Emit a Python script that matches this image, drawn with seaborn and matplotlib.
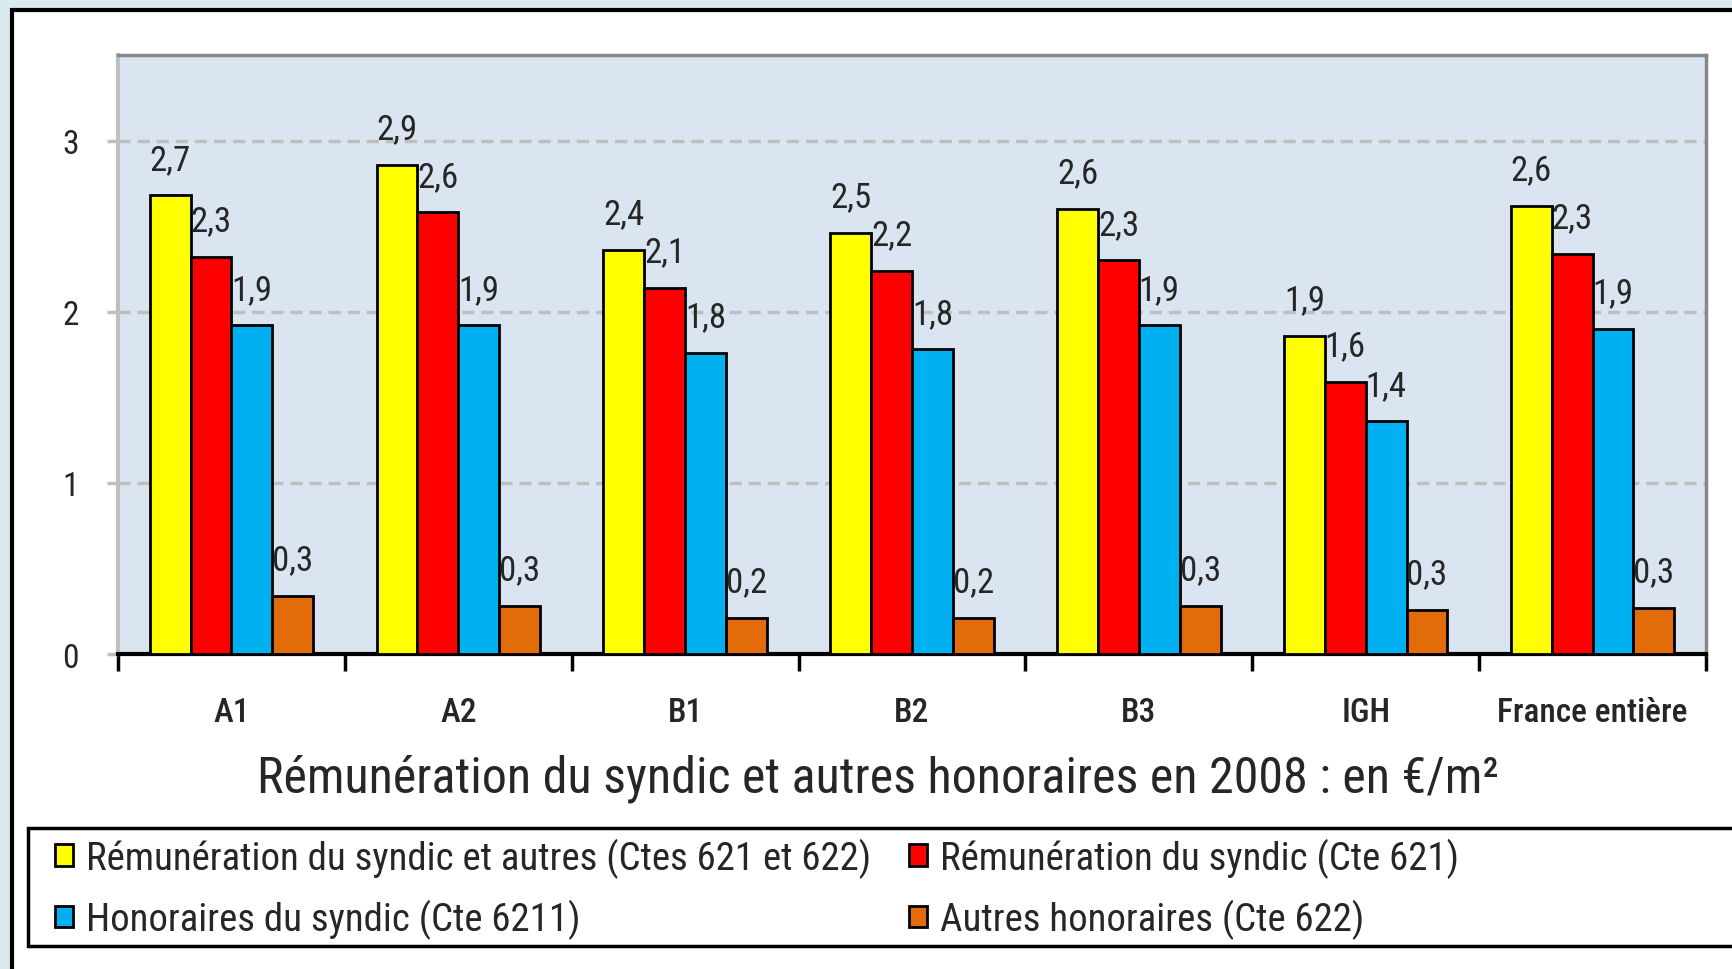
import pandas as pd
import seaborn as sns
import matplotlib.pyplot as plt
import matplotlib.patches as mpatches
from matplotlib import font_manager as fm

# donnees (en euros / m2)
zones = ['A1', 'A2', 'B1', 'B2', 'B3', 'IGH', 'France entière']
series = ['Rémunération du syndic et autres (Ctes 621 et 622)',
          'Rémunération du syndic (Cte 621)',
          'Honoraires du syndic (Cte 6211)',
          'Autres honoraires (Cte 622)']
remun_et_autres = [2.68, 2.86, 2.36, 2.46, 2.60, 1.86, 2.62]
remun_syndic = [2.32, 2.58, 2.14, 2.24, 2.30, 1.59, 2.34]
honoraires_syndic = [1.92, 1.92, 1.76, 1.78, 1.92, 1.36, 1.90]
autres_honoraires = [0.34, 0.28, 0.21, 0.21, 0.28, 0.26, 0.27]
couleurs = ['#ffff00', '#ff0000', '#00b0f0', '#e36c0a']
titre = 'Rémunération du syndic et autres honoraires en 2008 : en €/m²'

# tableau long pour seaborn
valeurs = [remun_et_autres, remun_syndic, honoraires_syndic, autres_honoraires]
lignes = []
for s, vals in zip(series, valeurs):
    for z, v in zip(zones, vals):
        lignes.append({'zone': z, 'serie': s, 'valeur': v})
df = pd.DataFrame(lignes)

sns.set_style('white')
# police etroite si disponible
noms = {f.name for f in fm.fontManager.ttflist}
police = 'DejaVu Sans'
for cand in ['Roboto Condensed', 'Liberation Sans Narrow', 'Open Sans Condensed']:
    if cand in noms:
        police = cand
        break
plt.rcParams['font.family'] = [police, 'DejaVu Sans']

fig = plt.figure(figsize=(17.33, 9.70), dpi=100)
fig.patch.set_facecolor('#daeaee')
W, H = 1733, 970

# cadre noir autour du graphique
fig.patches.append(mpatches.Rectangle((12 / W, -0.1), 1.2, 1 - 11 / H + 0.1,
                                      transform=fig.transFigure, facecolor='white',
                                      edgecolor='black', linewidth=3, zorder=-3))

ax = fig.add_axes([118 / W, 1 - 655 / H, (1706 - 118) / W, (655 - 56) / H])
ax.set_facecolor('#dbe5f1')
sns.barplot(data=df, x='zone', y='valeur', hue='serie', palette=couleurs,
            saturation=1, edgecolor='black', linewidth=2, width=0.72,
            legend=False, ax=ax, zorder=3)

# etiquettes de valeurs avec virgule
for cont, vals in zip(ax.containers, valeurs):
    ax.bar_label(cont, labels=[f'{v:.1f}'.replace('.', ',') for v in vals],
                 padding=14, fontsize=25)

ax.set_ylim(0, 3.5)
ax.set_xlim(-0.5, 6.5)
ax.set_yticks([0, 1, 2, 3])
ax.set_yticklabels(['0', '1', '2', '3'], fontsize=24)
ax.tick_params(axis='y', length=8, width=2.5, color='#bfbfbf', pad=20, left=True)
ax.set_xticks(range(len(zones)))
ax.set_xticklabels(zones, fontsize=24, fontweight='medium')
ax.set_xticks([i - 0.5 for i in range(len(zones) + 1)], minor=True)
ax.tick_params(axis='x', which='major', length=0, pad=30)
ax.tick_params(axis='x', which='minor', length=12, width=2.5, color='black', bottom=True)
ax.set_xlabel('')
ax.set_ylabel('')
ax.grid(axis='y', color='#bfbfbf', linestyle=(0, (3.5, 2)), linewidth=2.5, zorder=0)
ax.set_axisbelow(True)

ax.spines['bottom'].set_color('black')
ax.spines['bottom'].set_linewidth(3)
ax.spines['left'].set_color('#bfbfbf')
ax.spines['left'].set_linewidth(3)
for cote in ['top', 'right']:
    ax.spines[cote].set_color('#888888')
    ax.spines[cote].set_linewidth(2.5)

fig.text(878 / W, 1 - 779 / H, titre, fontsize=36, ha='center', va='center')

# legende dans son propre cadre
fig.patches.append(mpatches.Rectangle((27.6 / W, 1 - 947 / H), 1.2, 118 / H,
                                      transform=fig.transFigure, facecolor='white',
                                      edgecolor='black', linewidth=2.5, zorder=-2))
poignees = [mpatches.Patch(facecolor=c, edgecolor='black', linewidth=2, label=s)
            for c, s in zip(couleurs, series)]
ordre = [0, 2, 1, 3]
fig.legend([poignees[i] for i in ordre], [series[i] for i in ordre],
           loc='center left', bbox_to_anchor=(55 / W, 1 - 889.5 / H), ncol=2,
           frameon=False, fontsize=28, handlelength=0.46, handleheight=0.46,
           handletextpad=0.34, labelspacing=0.55, columnspacing=0.97,
           borderpad=0, borderaxespad=0)

fig.savefig('out.png', dpi=100)
